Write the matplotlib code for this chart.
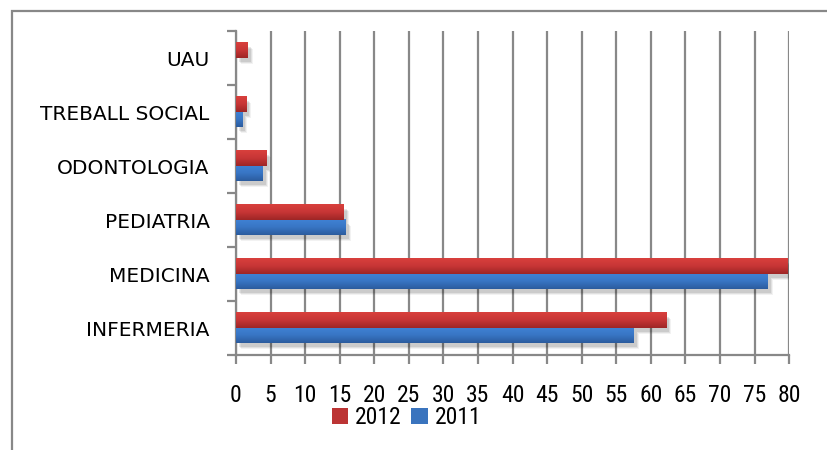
import numpy as np
import matplotlib.pyplot as plt
import matplotlib.transforms as mtransforms
from matplotlib import font_manager
from matplotlib.patches import Rectangle, Patch

# Students per study programme, 2011 vs 2012
categories = ['INFERMERIA', 'MEDICINA', 'PEDIATRIA', 'ODONTOLOGIA', 'TREBALL SOCIAL', 'UAU']
values_2012 = [62.2, 79.8, 15.6, 4.4, 1.5, 1.7]
values_2011 = [57.5, 76.9, 15.9, 3.9, 0.9, 0.0]
xticks = list(range(0, 81, 5))

# pick a narrow sans face if one is around
names = {f.name for f in font_manager.fontManager.ttflist}
narrow = [f.name for f in font_manager.fontManager.ttflist
          if 'condensed' in str(f.stretch).lower() or 'Narrow' in f.name or 'Condensed' in f.name]
choice = None
for cand in ['Liberation Sans Narrow', 'DejaVu Sans Condensed', 'Roboto Condensed',
             'Open Sans Condensed'] + sorted(narrow):
    if cand in names:
        choice = cand
        break
if choice:
    plt.rcParams['font.family'] = [choice, 'DejaVu Sans']
    tick_fs = 17
else:
    plt.rcParams['font.family'] = ['DejaVu Sans']
    tick_fs = 12.5

fig = plt.figure(figsize=(8.28, 4.5), dpi=100)
ax = fig.add_axes([0.285, 0.211, 0.668, 0.72])

# outer chart border (runs off the right and bottom edges)
fig.patches.append(Rectangle((12 / 828, -0.2), 1.2, 1.2 - 11 / 450,
                             transform=fig.transFigure, fill=False,
                             edgecolor='#888888', linewidth=1.6, zorder=0))

bar_h = 0.28
y = np.arange(len(categories))

red_grad = np.array([[0.85, 0.25, 0.24], [0.78, 0.21, 0.21], [0.62, 0.15, 0.15]])
blue_grad = np.array([[0.25, 0.51, 0.83], [0.22, 0.46, 0.77], [0.17, 0.36, 0.62]])


def gradient_img(cols, n=40):
    t = np.linspace(0, 1, n)
    img = np.zeros((n, 1, 3))
    for k in range(3):
        img[:, 0, k] = np.interp(t, [0, 0.5, 1], cols[:, k])
    return img


def draw_bars(vals, bottoms, cols):
    # soft shadow towards the lower right
    for dx, dy, a in [(5, -6, 0.05), (4, -5, 0.07), (3, -4, 0.09)]:
        tr = mtransforms.offset_copy(ax.transData, fig=fig, x=dx, y=dy, units='dots')
        ax.barh(bottoms, vals, height=bar_h, align='edge', color='black',
                alpha=a, transform=tr, zorder=2, linewidth=0)
    img = gradient_img(cols)
    for v, b in zip(vals, bottoms):
        if v <= 0:
            continue
        ax.imshow(img, extent=[0, v, b, b + bar_h], origin='upper',
                  aspect='auto', zorder=3, interpolation='bilinear')


draw_bars(values_2011, y - bar_h, blue_grad)
draw_bars(values_2012, y, red_grad)

ax.set_xlim(0, 80)
ax.set_ylim(-0.5, len(categories) - 0.5)

ax.set_xticks(xticks)
ax.set_xticklabels([str(v) for v in xticks], fontsize=tick_fs)
ax.set_yticks(y)
ax.set_yticklabels(categories, fontsize=14.5, family='DejaVu Sans')
ax.set_yticks(np.arange(-0.5, len(categories), 1), minor=True)

ax.grid(axis='x', color='#888888', linewidth=1.6, zorder=1)
ax.set_axisbelow(True)
for s in ['top', 'right']:
    ax.spines[s].set_visible(False)
for s in ['left', 'bottom']:
    ax.spines[s].set_color('#888888')
    ax.spines[s].set_linewidth(1.6)

ax.tick_params(axis='x', length=6.5, width=1.6, color='#888888', pad=14)
ax.tick_params(axis='y', which='major', length=0, pad=19)
ax.tick_params(axis='y', which='minor', length=6.5, width=1.6, color='#888888')

handles = [Patch(facecolor='#BC3434', label='2012'),
           Patch(facecolor='#3A74BE', label='2011')]
fig.legend(handles=handles, loc='center', bbox_to_anchor=(0.491, 0.072), ncol=2,
           frameon=False, fontsize=tick_fs, handlelength=0.7, handleheight=0.7,
           handletextpad=0.3, columnspacing=0.4, borderpad=0)

fig.savefig('out.png', dpi=100)
